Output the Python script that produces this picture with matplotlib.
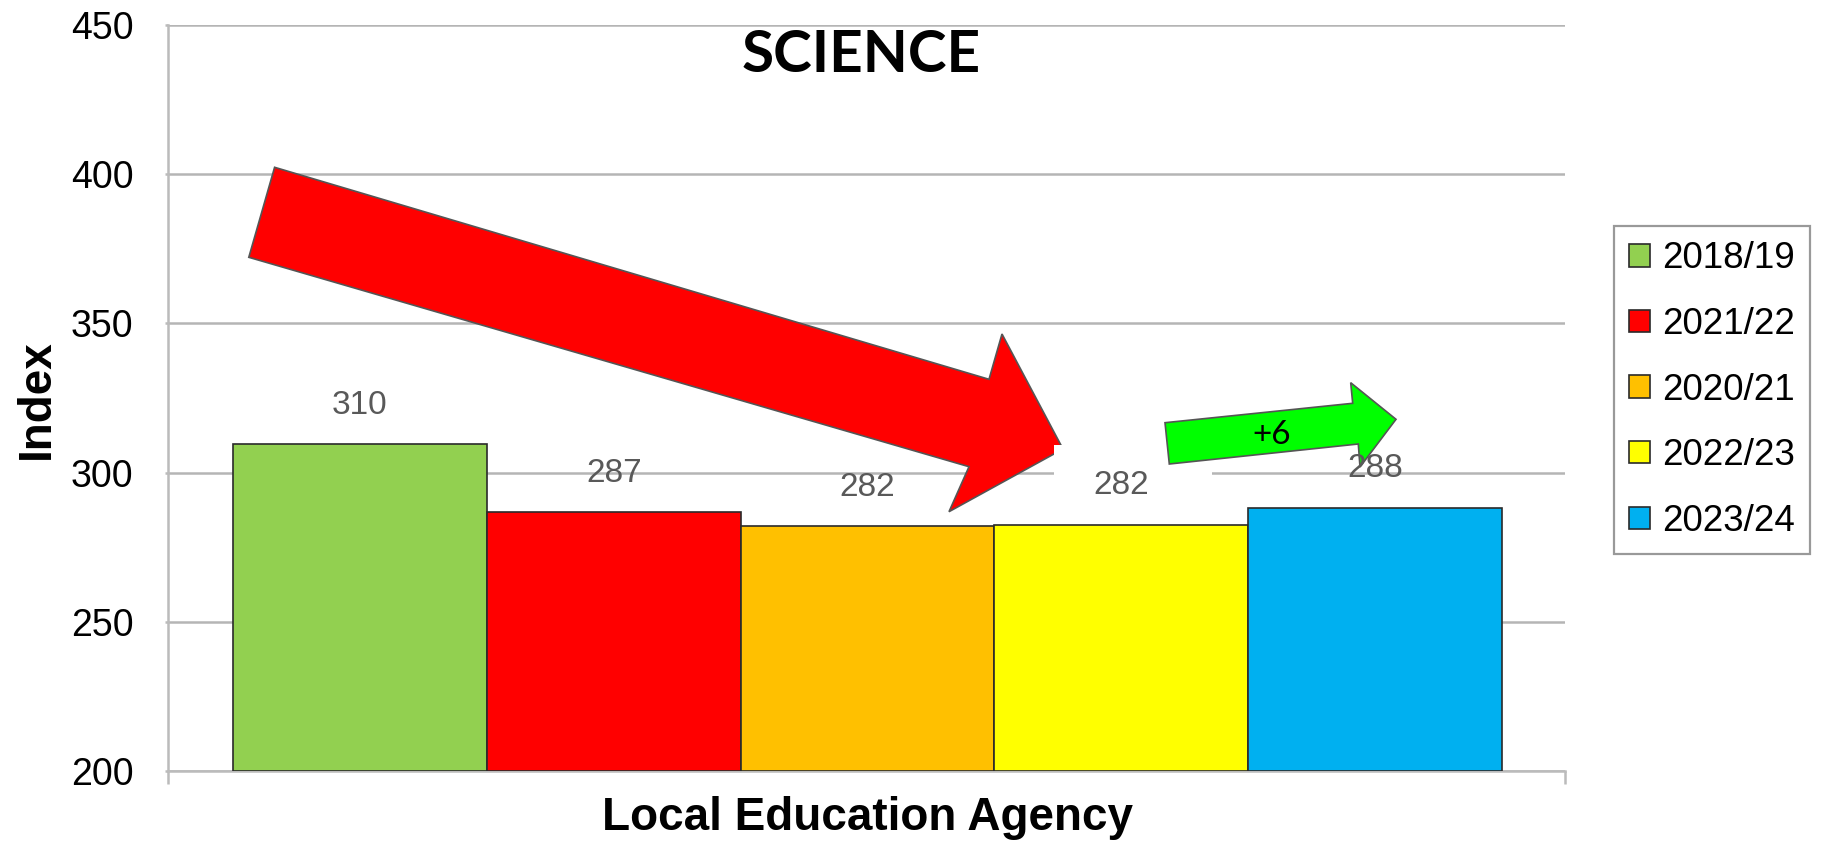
import matplotlib
matplotlib.use("Agg")
import matplotlib.pyplot as plt
from matplotlib.patches import Polygon, Rectangle

# ---- data ----
years = ["2018/19", "2021/22", "2020/21", "2022/23", "2023/24"]
values = [309.6, 286.8, 282.0, 282.5, 288.2]
value_labels = ["310", "287", "282", "282", "288"]
colors = ["#92D050", "#FF0000", "#FFC000", "#FFFF00", "#00B0F0"]
y_ticks = [200, 250, 300, 350, 400, 450]
title = "SCIENCE"
x_label = "Local Education Agency"
y_label = "Index"
change_label = "+6"

W, H = 1825, 843
fig = plt.figure(figsize=(W / 100, H / 100), dpi=100)
fig.patch.set_facecolor("white")

def px(x, y):
    return (x / W, 1 - y / H)

ax = fig.add_axes([168 / W, 1 - 771 / H, (1565 - 168) / W, (771 - 25) / H])

positions = list(range(len(values)))
bars = ax.bar(positions, [v - 200 for v in values], bottom=200, width=1.0,
              color=colors, edgecolor="#2a2a2a", linewidth=1.2, zorder=3)

ax.set_xlim(-0.756, 4.748)
ax.set_ylim(200, 450)
ax.set_yticks(y_ticks)
ax.set_yticklabels([str(t) for t in y_ticks], fontsize=27,
                   family=["Liberation Sans", "DejaVu Sans"])
ax.set_xticks([-0.756, 4.748])
ax.set_xticklabels(["", ""])
ax.tick_params(axis="x", length=9, width=1.8, color="#BBBBBB", direction="out")
ax.tick_params(axis="y", length=2, width=1.8, color="#BBBBBB", pad=23)

ax.grid(axis="y", color="#B5B5B5", linewidth=1.8, zorder=0)
ax.set_axisbelow(True)
for s in ["top", "right"]:
    ax.spines[s].set_visible(False)
for s in ["left", "bottom"]:
    ax.spines[s].set_color("#BBBBBB")
    ax.spines[s].set_linewidth(1.8)

# value labels
for p, v, lab in zip(positions, values, value_labels):
    ax.annotate(lab, xy=(p, v), xytext=(0, 28), textcoords="offset points",
                ha="center", va="center", fontsize=24, color="#595959",
                family=["Liberation Sans", "DejaVu Sans"], zorder=10)

# red downward arrow
red_pts = [(274.6, 167.3), (989, 379.3), (1002, 334), (1063, 449),
           (949, 511.7), (969, 466.7), (248.8, 257.3)]
red = Polygon([px(*p) for p in red_pts], closed=True, transform=fig.transFigure,
              facecolor="#FF0000", edgecolor="#555555", linewidth=1.2,
              zorder=5, clip_on=False)
ax.add_patch(red)

# white box behind labels
wb = Rectangle(px(1054, 521), (1212 - 1054) / W, (521 - 445) / H,
               transform=fig.transFigure, facecolor="white", edgecolor="none",
               zorder=6, clip_on=False)
ax.add_patch(wb)

# green arrow
green_pts = [(1165, 422.7), (1352.7, 403.3), (1350.7, 382.7), (1396, 419.3),
             (1360, 467), (1358.3, 444), (1169.3, 464)]
gr = Polygon([px(*p) for p in green_pts], closed=True, transform=fig.transFigure,
             facecolor="#00FF00", edgecolor="#555555", linewidth=1.2,
             zorder=7, clip_on=False)
ax.add_patch(gr)
fig.text(*px(1272, 435), change_label, ha="center", va="center", fontsize=24,
         color="black", family=["Lato", "DejaVu Sans"], zorder=11)

# titles / labels
fig.text(*px(861, 56), title, ha="center", va="center", fontsize=42,
         fontweight="bold", family=["Lato", "DejaVu Sans"])
fig.text(*px(867, 818), x_label, ha="center", va="center", fontsize=33,
         fontweight="bold", family=["Liberation Sans", "DejaVu Sans"])
fig.text(*px(37, 399), y_label, ha="center", va="center", fontsize=33,
         fontweight="bold", rotation=90, family=["Liberation Sans", "DejaVu Sans"])

# legend
handles = [Rectangle((0, 0), 1, 1, facecolor=c, edgecolor="#2a2a2a", linewidth=1.2)
           for c in colors]
leg = fig.legend(handles, years, loc="upper left", bbox_to_anchor=px(1614, 226),
                 bbox_transform=fig.transFigure,
                 prop={"family": ["Liberation Sans", "DejaVu Sans"], "size": 26.5},
                 handlelength=0.55, handleheight=0.55, handletextpad=0.33,
                 labelspacing=0.83, borderpad=0.42, borderaxespad=0,
                 fancybox=False, frameon=True)
leg.get_frame().set_edgecolor("#808080")
leg.get_frame().set_linewidth(1.6)

fig.savefig("out.png", dpi=100)
